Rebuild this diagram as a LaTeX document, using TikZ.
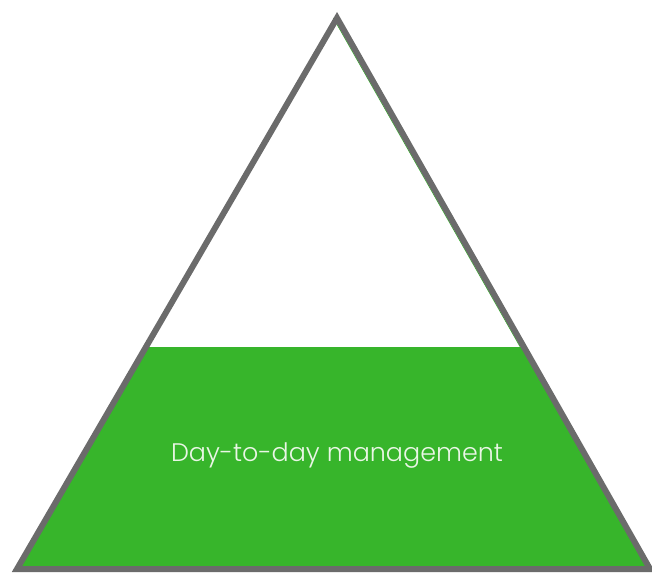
\documentclass[tikz,border=0pt]{standalone}
\usepackage{fontspec}
\newfontfamily\labelfont{Poppins}[UprightFont={* Light}]
\definecolor{pyrgreen}{HTML}{37B52B}
\definecolor{pyredge}{HTML}{6B6B6B}
\definecolor{labeltext}{HTML}{EAF6E6}
\begin{document}
\begin{tikzpicture}[x=1pt,y=-1pt,
  outline/.style={draw=pyredge,line width=6pt,line join=miter},
  tier/.style={fill=pyrgreen},
  tierlabel/.style={text=labeltext,font=\labelfont\fontsize{25.4}{30}\selectfont}]
  \useasboundingbox (0,0) rectangle (652,572);
  % corners of the pyramid
  \coordinate (apex) at (337,18);
  \coordinate (bl) at (17,569);
  \coordinate (br) at (650,569);
  % bottom tier, clipped to the triangle
  \begin{scope}
    \clip (apex) -- (bl) -- (br) -- cycle;
    \fill[tier] (0,347) rectangle (652,572);
  \end{scope}
  % thin green trace along the inner right edge
  \draw[pyrgreen,line width=0.8pt] ([xshift=-3.6pt]apex) -- ([xshift=-3.6pt]br);
  % outline
  \draw[outline] (apex) -- (bl) -- (br) -- cycle;
  \node[tierlabel] (mgmt) at (337,456) {Day-to-day management};
\end{tikzpicture}
\end{document}
